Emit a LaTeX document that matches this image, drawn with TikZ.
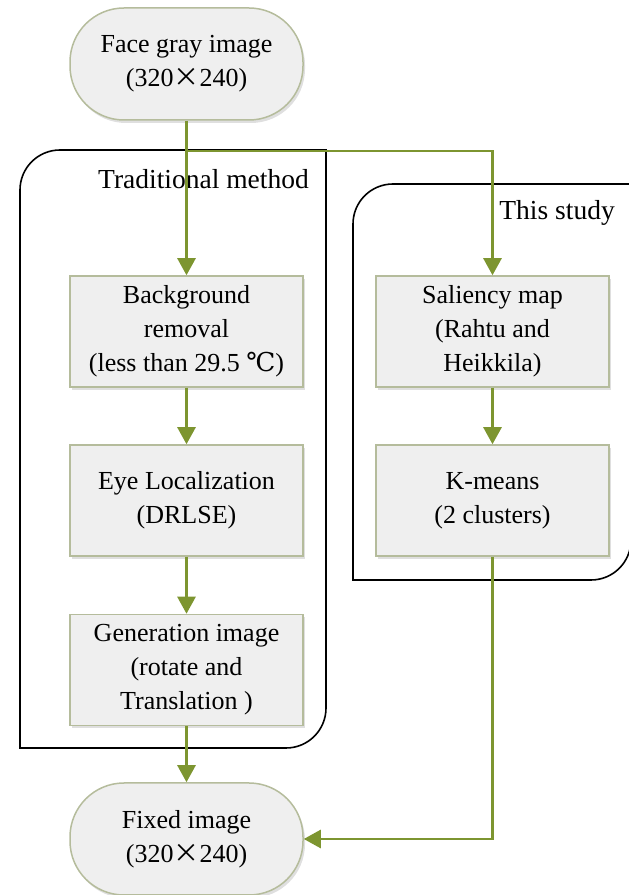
\documentclass[tikz,border=0pt]{standalone}
\usepackage{fontspec}
\setmainfont{Liberation Serif}
\newfontfamily\cjk{Noto Sans CJK SC}
\newfontfamily\symfont{DejaVu Serif}
\usetikzlibrary{arrows.meta,shadows}

\definecolor{flowgreen}{HTML}{7D9530}
\definecolor{boxedge}{HTML}{B5BC9C}
\definecolor{boxfill}{HTML}{EFEFEF}

\tikzset{
  txt/.style={font=\fontsize{26}{34}\selectfont},
  procbox/.style={txt, draw=boxedge, line width=1.5pt, fill=boxfill,
    minimum width=233pt, minimum height=111pt, align=center, inner sep=2pt,
    drop shadow={opacity=0.25, shadow xshift=2pt, shadow yshift=-3pt}},
  termbox/.style={procbox, rounded corners=54pt, minimum height=112pt},
  frame/.style={draw=black, line width=1.6pt},
  arr/.style={draw=flowgreen, line width=2.6pt,
    -{Triangle[length=17pt,width=18pt]}},
  label/.style={font=\fontsize{27.5}{34}\selectfont, anchor=east, inner sep=0pt}
}

\newcommand{\timessign}{{\cjk ×}}

\begin{document}
\begin{tikzpicture}[x=1pt,y=1pt]
\useasboundingbox (0,0) rectangle (629,895);

% group frames (the right one runs past the right margin)
\draw[frame] (20,147) -- (20,705) arc[start angle=180,end angle=90,radius=40pt]
  -- (326,745) -- (326,187) arc[start angle=0,end angle=-90,radius=40pt] -- cycle;
\draw[frame] (353,315) -- (353,671) arc[start angle=180,end angle=90,radius=40pt]
  -- (631,711) -- (631,355) arc[start angle=0,end angle=-90,radius=40pt] -- cycle;

\node[label] (tradlbl) at (309,716) {Traditional method};
\node[label] (studylbl) at (615,682) {This study};

% flow steps
\node[termbox] (input) at (186.5,831) {Face gray image\\(320\timessign240)};
\node[procbox] (bg) at (186.5,563.5) {Background\\removal\\(less than 29.5 {\symfont ℃})};
\node[procbox] (eye) at (186.5,394.5) {Eye Localization\\(DRLSE)};
\node[procbox] (gen) at (186.5,225) {Generation image\\(rotate and\\Translation )};
\node[procbox] (sal) at (492.5,563.5) {Saliency map\\(Rahtu and\\Heikkila)};
\node[procbox] (km) at (492.5,394.5) {K-means\\(2 clusters)};
\node[termbox] (output) at (186.5,56) {Fixed image\\(320\timessign240)};

% connectors
\coordinate (split) at (186.5,744);
\coordinate (joinpt) at (492.5,56);
\draw[arr] (input.south) -- (bg.north);
\draw[arr] (split) -| (sal.north);
\draw[arr] (bg.south) -- (eye.north);
\draw[arr] (eye.south) -- (gen.north);
\draw[arr] (gen.south) -- (output.north);
\draw[arr] (sal.south) -- (km.north);
\draw[arr] (km.south) -- (joinpt) -- (output.east);
\end{tikzpicture}
\end{document}
